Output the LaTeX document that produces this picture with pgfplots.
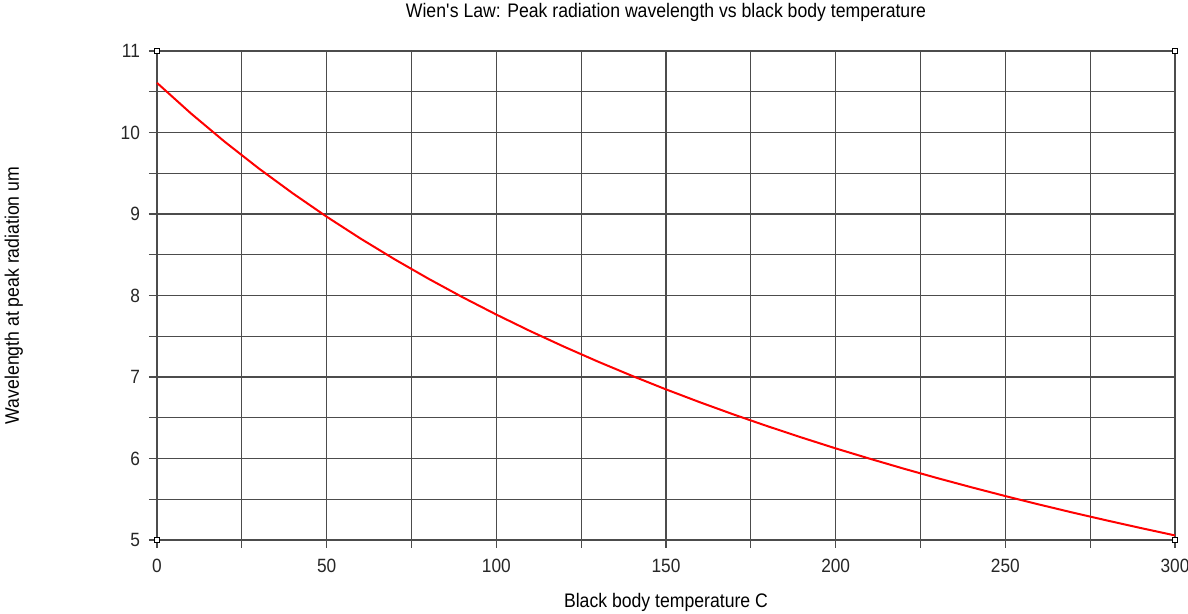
\documentclass[border=0pt]{standalone}
\usepackage{fontspec}
\setmainfont{Liberation Sans}[FakeStretch=0.9]
\usepackage{pgfplots}
\pgfplotsset{compat=1.18}

\begin{document}
\begin{tikzpicture}
% 1 px of the reference = 0.5pt
\useasboundingbox (-78.5pt,-37pt) rectangle (515.5pt,270pt);
\begin{axis}[
    at={(0,0)}, anchor=south west,
    scale only axis,
    width=509pt, height=244.5pt,
    xmin=0, xmax=300,
    ymin=5, ymax=11,
    xtick={0,50,...,300},
    minor xtick={25,75,...,275},
    ytick={5,6,...,11},
    minor ytick={5.5,6.5,...,10.5},
    grid=both,
    major grid style={black!70, line width=0.65pt},
    minor grid style={black!70, line width=0.65pt},
    axis line style={black!70, line width=0.65pt},
    tick pos=left,
    tick align=outside,
    major tick length=4pt,
    minor tick length=4pt,
    tick style={black!70, line width=0.65pt},
    /pgf/number format/assume math mode=true,
    tick label style={font=\fontsize{9.6}{11}\selectfont, text=black!85},
    xticklabel style={yshift=-2pt},
    yticklabel style={xshift=-1pt},
    title={Wien\textquotesingle s Law: Peak radiation wavelength vs black body temperature},
    title style={font=\fontsize{9.8}{11}\selectfont, at={(axis description cs:0.5,1)}, anchor=base, yshift=11pt},
    xlabel={Black body temperature C},
    xlabel style={font=\fontsize{9.8}{11}\selectfont, at={(axis description cs:0.5,0)}, anchor=base, yshift=-34pt},
    ylabel={Wavelength at peak radiation um},
    ylabel style={font=\fontsize{9.8}{11}\selectfont, at={(axis description cs:0,0.5)}, anchor=base, rotate=0, yshift=69pt},
    clip=false,
]
\addplot[red, line width=1pt] coordinates {
    (0,10.609) (10,10.234) (20,9.885) (30,9.559) (40,9.254) (50,8.967)
    (60,8.698) (70,8.445) (80,8.206) (90,7.980) (100,7.766)
    (110,7.563) (120,7.371) (130,7.188) (140,7.014) (150,6.848)
    (160,6.690) (170,6.539) (180,6.395) (190,6.257) (200,6.124)
    (210,5.998) (220,5.876) (230,5.759) (240,5.647) (250,5.539)
    (260,5.435) (270,5.335) (280,5.239) (290,5.146) (300,5.056)
};
\addplot[only marks, mark=square*, mark size=1.1pt, draw=black, fill=white, line width=0.5pt]
    coordinates {(0,5) (0,11) (300,5) (300,11)};
\end{axis}
\end{tikzpicture}
\end{document}
